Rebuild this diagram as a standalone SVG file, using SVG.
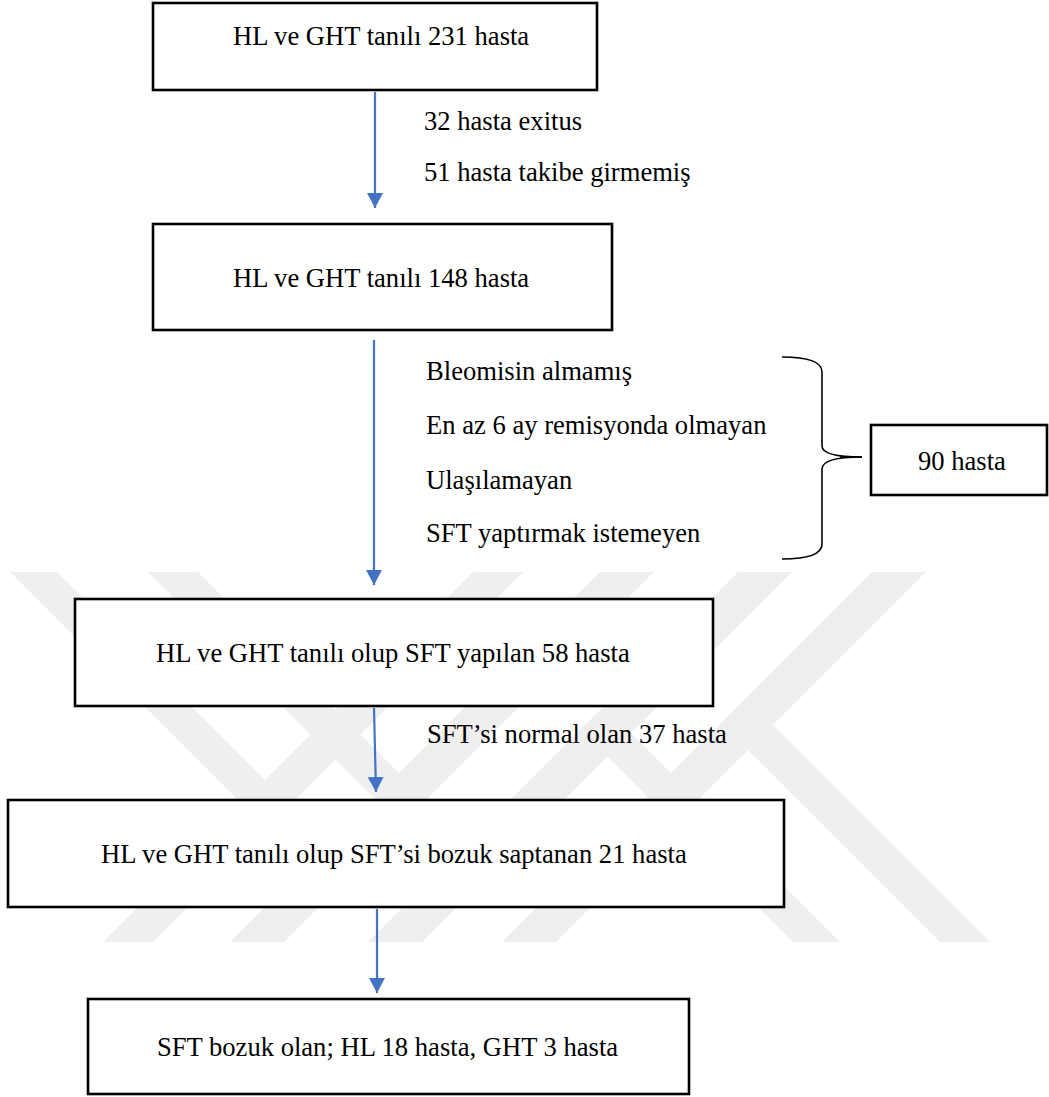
<svg xmlns="http://www.w3.org/2000/svg" width="1049" height="1097" viewBox="0 0 1049 1097">
<style>
.box{fill:#fff;stroke:#000;stroke-width:2.6}
text{font-family:'Liberation Serif','Times New Roman',Tinos,Times,serif;font-size:26.6px;fill:#000}
.wm{fill:#efefef}
.con{stroke:#4472C4;stroke-width:2.2;fill:none}
</style>
<defs>
<marker id="ah" markerUnits="userSpaceOnUse" markerWidth="16" markerHeight="16" viewBox="0 0 16 16" refX="15" refY="8" orient="auto">
<path d="M0,0 L15,8 L0,16 Z" fill="#4472C4"/>
</marker>
</defs>
<rect width="1049" height="1097" fill="#fff"/>
<g id="watermark">
<polygon class="wm" points="473,572 523,572 153,942 103,942"/>
<polygon class="wm" points="600,572 654,572 284,942 230,942"/>
<polygon class="wm" points="738,572 792,572 422,942 368,942"/>
<polygon class="wm" points="872,572 926,572 556,942 502,942"/>
<polygon class="wm" points="10,572 57,572 265,780 241.5,803.5"/>
<polygon class="wm" points="148,572 198,572 399,773 374,798"/>
<polygon class="wm" points="607.5,756.5 631,733 840,942 793,942"/>
<polygon class="wm" points="748,750 773,725 990,942 940,942"/>
</g>
<g id="connectors">
<line class="con" x1="375" y1="92" x2="375" y2="208" marker-end="url(#ah)"/>
<line class="con" x1="374" y1="340" x2="374" y2="585" marker-end="url(#ah)"/>
<line class="con" x1="374" y1="708" x2="376" y2="792" marker-end="url(#ah)"/>
<line class="con" x1="377" y1="909" x2="377" y2="993" marker-end="url(#ah)"/>
<path d="M782,357 Q822,357 822,372 L822,446 Q822,457 862,457 Q822,457 822,469 L822,544 Q822,559 782,559" fill="none" stroke="#000" stroke-width="1.6"/>
<line x1="840" y1="457" x2="862" y2="457" stroke="#000" stroke-width="1.6"/>
</g>
<g id="n1">
<rect class="box" x="153" y="3" width="444" height="87"/>
<text font-family="Liberation Serif, serif" x="233" y="45">HL ve GHT tanılı 231 hasta</text>
</g>
<g id="l1">
<text font-family="Liberation Serif, serif" x="424" y="130">32 hasta exitus</text>
<text font-family="Liberation Serif, serif" x="424" y="181">51 hasta takibe girmemiş</text>
</g>
<g id="n2">
<rect class="box" x="153" y="224" width="459" height="106"/>
<text font-family="Liberation Serif, serif" x="233" y="287">HL ve GHT tanılı 148 hasta</text>
</g>
<g id="l2">
<text font-family="Liberation Serif, serif" x="426" y="380">Bleomisin almamış</text>
<text font-family="Liberation Serif, serif" x="426" y="434">En az 6 ay remisyonda olmayan</text>
<text font-family="Liberation Serif, serif" x="426" y="489">Ulaşılamayan</text>
<text font-family="Liberation Serif, serif" x="426" y="542">SFT yaptırmak istemeyen</text>
</g>
<g id="n90">
<rect class="box" x="871" y="425" width="176" height="70"/>
<text font-family="Liberation Serif, serif" x="918" y="470">90 hasta</text>
</g>
<g id="n3">
<rect class="box" x="75" y="599" width="638" height="107"/>
<text font-family="Liberation Serif, serif" x="156" y="662">HL ve GHT tanılı olup SFT yapılan 58 hasta</text>
</g>
<g id="l3">
<text font-family="Liberation Serif, serif" x="427" y="743">SFT’si normal olan 37 hasta</text>
</g>
<g id="n4">
<rect class="box" x="8" y="800" width="776" height="107"/>
<text font-family="Liberation Serif, serif" x="101" y="863">HL ve GHT tanılı olup SFT’si bozuk saptanan 21 hasta</text>
</g>
<g id="n5">
<rect class="box" x="88" y="999" width="601" height="95"/>
<text font-family="Liberation Serif, serif" x="157" y="1056">SFT bozuk olan; HL 18 hasta, GHT 3 hasta</text>
</g>
</svg>
